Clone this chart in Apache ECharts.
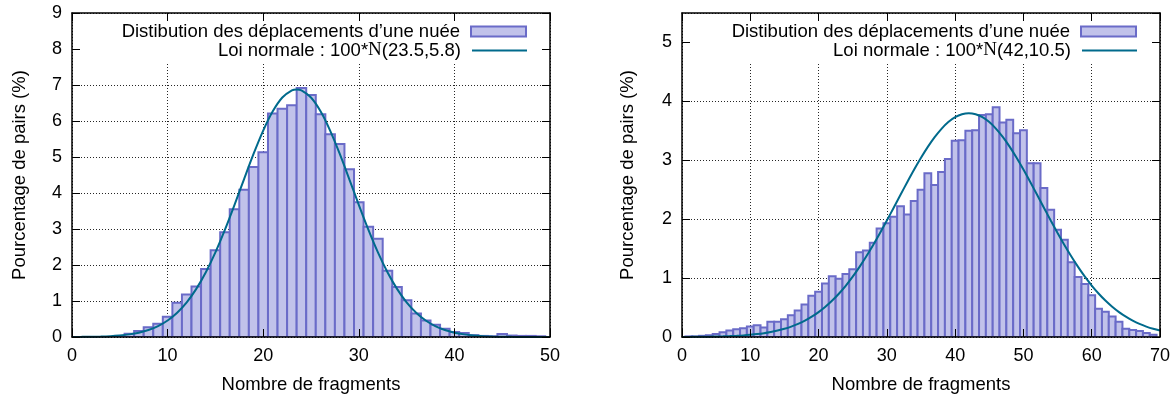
<!DOCTYPE html>
<html><head><meta charset="utf-8">
<script src="https://cdn.jsdelivr.net/npm/echarts@6/dist/echarts.min.js"></script>
<style>html,body{margin:0;padding:0;background:#fff}#c{width:1175px;height:397px}</style>
</head><body><div id="c"></div>
<script>
// ---------- texts ----------
const histName = 'Distibution des déplacements d’une nuée';
const leftLineName = 'Loi normale : 100*N(23.5,5.8)';
const rightLineName = 'Loi normale : 100*N(42,10.5)';
const xTitle = 'Nombre de fragments';
const yTitle = 'Pourcentage de pairs (%)';

// ---------- left panel data ----------
const leftBinX = [0,1,2,3,4,5,6,7,8,9,10,11,12,13,14,15,16,17,18,19,20,21,22,23,24,25,26,27,28,29,30,31,32,33,34,35,36,37,38,39,40,41,42,43,44,45,46,47,48,49];
const leftBinPct = [0,0,0,0,0,0.03,0.09,0.17,0.27,0.37,0.56,0.95,1.18,1.40,1.89,2.41,2.91,3.55,4.09,4.72,5.13,6.21,6.34,6.44,6.92,6.72,6.19,5.63,5.36,4.66,3.74,3.06,2.73,1.84,1.39,1.02,0.65,0.46,0.34,0.23,0.14,0.11,0.05,0.03,0.02,0.08,0.04,0.03,0.03,0.02];
const leftCurveX = [0,1,2,3,4,5,6,7,8,9,10,11,12,13,14,15,16,17,18,19,20,21,22,23,23.5,24,25,26,27,28,29,30,31,32,33,34,35,36,37,38,39,40,41,42,43,44,45,46,47,48,49,50];
const leftCurveY = [0.002,0.004,0.007,0.013,0.024,0.043,0.073,0.120,0.193,0.302,0.458,0.674,0.963,1.336,1.799,2.350,2.981,3.671,4.388,5.091,5.733,6.268,6.652,6.852,6.878,6.852,6.652,6.268,5.733,5.091,4.388,3.671,2.981,2.350,1.799,1.336,0.963,0.674,0.458,0.302,0.193,0.120,0.073,0.043,0.024,0.013,0.007,0.004,0.002,0.001,0.000,0.000];
const leftXTicks = {min: 0, max: 50, interval: 10};
const leftYTicks = {min: 0, max: 9, interval: 1};

// ---------- right panel data ----------
const rightBinX = [0,1,2,3,4,5,6,7,8,9,10,11,12,13,14,15,16,17,18,19,20,21,22,23,24,25,26,27,28,29,30,31,32,33,34,35,36,37,38,39,40,41,42,43,44,45,46,47,48,49,50,51,52,53,54,55,56,57,58,59,60,61,62,63,64,65,66,67,68,69];
const rightBinPct = [0,0.01,0.01,0.02,0.03,0.05,0.08,0.11,0.13,0.15,0.18,0.20,0.16,0.26,0.26,0.30,0.37,0.45,0.55,0.70,0.77,0.91,1.03,0.99,1.07,1.15,1.44,1.47,1.60,1.84,1.93,2.04,2.22,2.08,2.31,2.50,2.78,2.58,2.80,3.02,3.33,3.34,3.50,3.51,3.77,3.78,3.90,3.64,3.69,3.46,3.51,2.95,2.95,2.53,2.16,1.82,1.65,1.27,1.02,0.90,0.71,0.48,0.43,0.35,0.26,0.14,0.12,0.10,0.07,0.04];
const rightCurveX = [0,1,2,3,4,5,6,7,8,9,10,11,12,13,14,15,16,17,18,19,20,21,22,23,24,25,26,27,28,29,30,31,32,33,34,35,36,37,38,39,40,41,42,43,44,45,46,47,48,49,50,51,52,53,54,55,56,57,58,59,60,61,62,63,64,65,66,67,68,69,70];
const rightCurveY = [0.001,0.002,0.003,0.004,0.005,0.008,0.011,0.015,0.020,0.027,0.037,0.049,0.064,0.084,0.109,0.139,0.177,0.223,0.279,0.345,0.423,0.514,0.619,0.739,0.874,1.024,1.190,1.370,1.562,1.765,1.977,2.195,2.414,2.631,2.842,3.042,3.227,3.392,3.534,3.648,3.731,3.782,3.800,3.782,3.731,3.648,3.534,3.392,3.227,3.042,2.842,2.631,2.414,2.195,1.977,1.765,1.562,1.370,1.190,1.024,0.874,0.739,0.619,0.514,0.423,0.345,0.279,0.223,0.177,0.139,0.109];
const rightXTicks = {min: 0, max: 70, interval: 10};
const rightYTicks = {min: 0, max: 5.5, interval: 1};

// ---------- style / layout ----------
const FONT = 'Liberation Sans, Arial, Helvetica, sans-serif';
const BAR_FILL = '#c1c2ea';
const BAR_EDGE = '#6a6bc8';
const CURVE = '#006a8c';
const BIN_HALF = 0.5;
const TICK_FS = 18, TEXT_FS = 18.5;
const panels = [
  {left: 72, top: 13, width: 478, height: 324, legendRight: 648, xNameGap: 38, yNameGap: 43},
  {left: 682, top: 13, width: 478, height: 324, legendRight: 38, xNameGap: 38, yNameGap: 45}
];
const KEY_COVER_H = 48;

function binRenderer(params, api) {
  const x = api.value(0), v = api.value(1);
  if (!(v > 0)) return null;
  const a = api.coord([x - BIN_HALF, 0]);
  const b = api.coord([x + BIN_HALF, v]);
  return {type: 'rect', shape: {x: a[0], y: b[1], width: b[0] - a[0], height: a[1] - b[1]},
    style: {fill: BAR_FILL, stroke: BAR_EDGE, lineWidth: 2}};
}

const grids = [], xAxes = [], yAxes = [], series = [], legends = [], graphics = [];
const dotted = {color: '#000', width: 1, type: [1, 2], opacity: 0.85};
const panelData = [
  {bx: leftBinX, bp: leftBinPct, cx: leftCurveX, cy: leftCurveY, xt: leftXTicks, yt: leftYTicks, ln: leftLineName},
  {bx: rightBinX, bp: rightBinPct, cx: rightCurveX, cy: rightCurveY, xt: rightXTicks, yt: rightYTicks, ln: rightLineName}
];

panels.forEach((p, i) => {
  const d = panelData[i];
  const g = {left: p.left, top: p.top, width: p.width, height: p.height, outerBoundsMode: 'none', containLabel: false};
  const gMain = grids.length; grids.push(Object.assign({}, g));
  const gOv = grids.length; grids.push(Object.assign({}, g));
  const hidden = {axisLine: {show: false}, axisTick: {show: false}, axisLabel: {show: false}};
  const xMain = xAxes.length;
  xAxes.push(Object.assign({type: 'value', gridIndex: gMain, min: d.xt.min, max: d.xt.max, interval: d.xt.interval, z: 0,
    splitLine: {show: true, lineStyle: dotted}}, hidden));
  const yMain = yAxes.length;
  yAxes.push(Object.assign({type: 'value', gridIndex: gMain, min: d.yt.min, max: d.yt.max, interval: d.yt.interval, z: 0,
    splitLine: {show: true, lineStyle: dotted}}, hidden));
  const line = {show: true, onZero: false, lineStyle: {color: '#000', width: 1.5}};
  const tick = {show: true, inside: true, length: 8, lineStyle: {color: '#000', width: 1}};
  xAxes.push({type: 'value', gridIndex: gOv, position: 'bottom', min: d.xt.min, max: d.xt.max, interval: d.xt.interval, z: 5,
    axisLine: line, axisTick: tick, splitLine: {show: false},
    axisLabel: {show: true, color: '#000', fontFamily: FONT, fontSize: TICK_FS, margin: 10},
    name: xTitle, nameLocation: 'middle', nameGap: p.xNameGap, nameMoveOverlap: false,
    nameTextStyle: {color: '#000', fontFamily: FONT, fontSize: TEXT_FS}});
  xAxes.push({type: 'value', gridIndex: gOv, position: 'top', min: d.xt.min, max: d.xt.max, interval: d.xt.interval, z: 5,
    axisLine: line, axisTick: tick, splitLine: {show: false}, axisLabel: {show: false}});
  yAxes.push({type: 'value', gridIndex: gOv, position: 'left', min: d.yt.min, max: d.yt.max, interval: d.yt.interval, z: 5,
    axisLine: line, axisTick: tick, splitLine: {show: false},
    axisLabel: {show: true, color: '#000', fontFamily: FONT, fontSize: TICK_FS, margin: 10, showMaxLabel: d.yt.max % d.yt.interval === 0},
    name: yTitle, nameLocation: 'middle', nameGap: p.yNameGap, nameRotate: 90, nameMoveOverlap: false,
    nameTextStyle: {color: '#000', fontFamily: FONT, fontSize: TEXT_FS}});
  yAxes.push({type: 'value', gridIndex: gOv, position: 'right', min: d.yt.min, max: d.yt.max, interval: d.yt.interval, z: 5,
    axisLine: line, axisTick: tick, splitLine: {show: false}, axisLabel: {show: false}});

  series.push({type: 'custom', name: histName, xAxisIndex: xMain, yAxisIndex: yMain, clip: true, z: 2,
    renderItem: binRenderer, itemStyle: {color: BAR_FILL, borderColor: BAR_EDGE, borderWidth: 2},
    data: d.bx.map((x, k) => [x, d.bp[k]]), silent: true});
  series.push({type: 'line', name: d.ln, xAxisIndex: xMain, yAxisIndex: yMain, smooth: 0.3, symbol: 'none', z: 3,
    lineStyle: {color: CURVE, width: 2}, itemStyle: {color: CURVE}, silent: true,
    data: d.cx.map((x, k) => [x, d.cy[k]])});

  const legendText = {color: '#000', fontFamily: FONT, fontSize: TEXT_FS, lineHeight: 20, padding: [0, 6, 0, 0],
    rich: {n: {fontFamily: 'Liberation Serif, DejaVu Serif, serif', fontSize: TEXT_FS + 0.5, lineHeight: 20}}};
  const fmt = name => name.replace('N(', '{n|N}(');
  legends.push({data: [histName], right: p.legendRight, top: 21.5, align: 'right', orient: 'horizontal', padding: 0,
    itemWidth: 55, itemHeight: 10, icon: 'rect', selectedMode: false, z: 6,
    itemStyle: {color: BAR_FILL, borderColor: BAR_EDGE, borderWidth: 2}, textStyle: legendText, formatter: fmt});
  legends.push({data: [d.ln], right: p.legendRight, top: 40.5, align: 'right', orient: 'horizontal', padding: 0,
    itemWidth: 55, itemHeight: 2, icon: 'rect', selectedMode: false, z: 6,
    itemStyle: {color: CURVE, borderWidth: 0}, lineStyle: {width: 0}, textStyle: legendText, formatter: fmt});

  graphics.push({type: 'rect', z: 1, silent: true,
    shape: {x: p.left + 1, y: p.top + 1, width: p.width - 2, height: KEY_COVER_H},
    style: {fill: '#fff'}});
});

const chart = echarts.init(document.getElementById('c'), null, {renderer: 'canvas'});
chart.setOption({
  animation: false,
  backgroundColor: '#fff',
  textStyle: {fontFamily: FONT},
  grid: grids, xAxis: xAxes, yAxis: yAxes, series: series, legend: legends,
  graphic: {elements: graphics}
});
</script></body></html>
